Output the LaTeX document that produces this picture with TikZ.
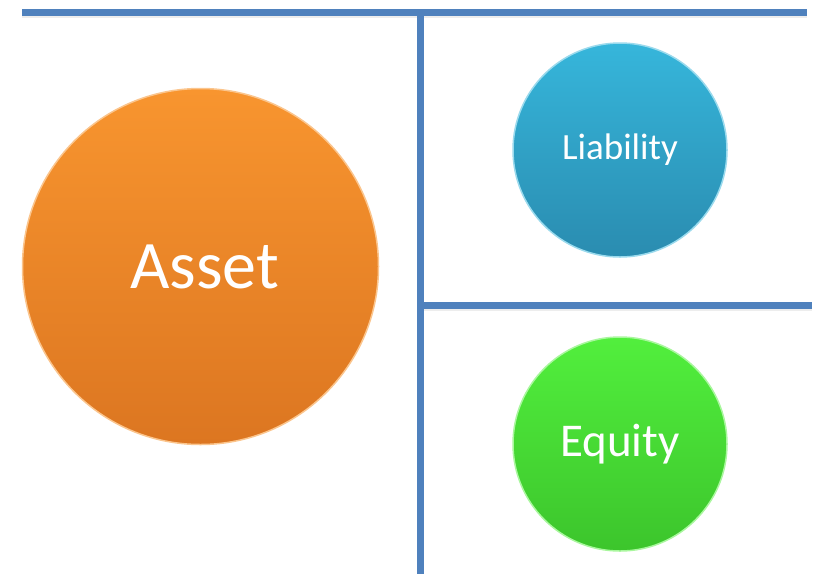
\documentclass[tikz,border=0pt]{standalone}
\usepackage{fontspec}
\setmainfont{Carlito}
\usepackage{tikz}
\usetikzlibrary{positioning,shadings}

\definecolor{rule}{HTML}{4F81BD}
\definecolor{assettop}{HTML}{F8952F}
\definecolor{assetbot}{HTML}{DC7621}
\definecolor{liabtop}{HTML}{36B6DB}
\definecolor{liabbot}{HTML}{2A8CB0}
\definecolor{equitop}{HTML}{52EF3D}
\definecolor{equibot}{HTML}{3CC52C}

\tikzset{
  bar/.style={draw=rule, line width=7pt},
  barshadow/.style={draw=black!7, line width=7pt},
  disc/.style={circle, inner sep=0pt, text=white, line width=1.5pt},
}

\begin{document}
\begin{tikzpicture}[x=1pt,y=-1pt]%
    \useasboundingbox[fill=white] (0,0) rectangle (818,574);
    \coordinate (tl) at (22,12.5);
    \coordinate (tr) at (807,12.5);
    \coordinate (tm) at (420.5,12.5);
    \coordinate (bm) at (420.5,574);
    \coordinate (ml) at (420.5,305);
    \coordinate (mr) at (812,305);
    % T-account rules, faint shadow first
    \draw[barshadow] ([yshift=-2]tl) -- ([yshift=-2]tr);
    \draw[barshadow] ([yshift=-2]ml) -- ([yshift=-2]mr);
    \draw[bar] (tl) -- (tr);
    \draw[bar] (tm) -- (bm);
    \draw[bar] (ml) -- (mr);
    % the three balls
    \node[disc, minimum size=356pt, top color=assettop, bottom color=assetbot,
      draw=assettop!55!white, font=\fontsize{68}{80}\selectfont]
      (asset) at (200.5,266.5) {\hspace{8pt}Asset};
    \node[disc, minimum size=214pt, top color=liabtop, bottom color=liabbot,
      draw=liabtop!50!white, font=\fontsize{37}{44}\selectfont]
      (liability) at (620,150) {Liability};
    \node[disc, minimum size=214pt, top color=equitop, bottom color=equibot,
      draw=equitop!50!white, font=\fontsize{47}{56}\selectfont]
      (equity) at (620,444) {Equity};
  \end{tikzpicture}
\end{document}
